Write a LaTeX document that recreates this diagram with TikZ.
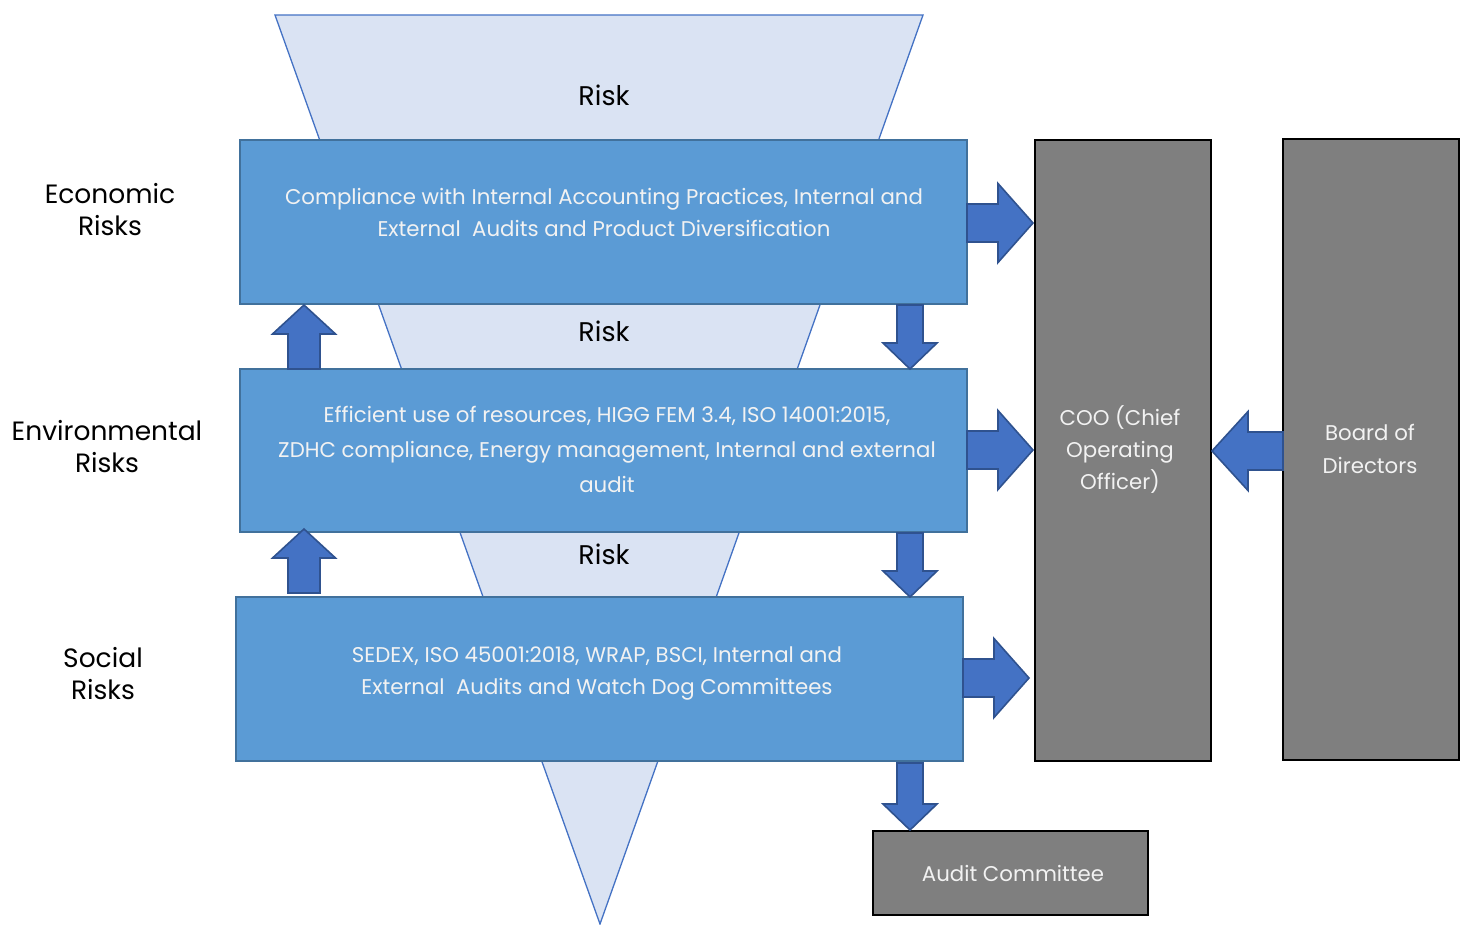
\documentclass[tikz,border=0pt]{standalone}
\usepackage{fontspec}
\setmainfont{Poppins}
\definecolor{boxblue}{HTML}{5B9BD5}
\definecolor{boxedge}{HTML}{41719C}
\definecolor{arrblue}{HTML}{4472C4}
\definecolor{arredge}{HTML}{2F528F}
\definecolor{funnelfill}{HTML}{DAE3F3}
\definecolor{greybox}{HTML}{7F7F7F}
\definecolor{boxtext}{HTML}{F2F2F2}
\tikzset{
  riskbox/.style={draw=boxedge, line width=2.2pt, fill=boxblue},
  greyrect/.style={draw=black, line width=2.6pt, fill=greybox},
  blockarr/.style={draw=arredge, line width=1.6pt, fill=arrblue, line join=miter},
  funnel/.style={draw=arrblue, line width=1.3pt, fill=funnelfill},
  boxlabel/.style={text=boxtext, font=\fontsize{21.3}{32}\selectfont, align=center},
  sidelabel/.style={text=black, font=\fontsize{26.5}{32}\selectfont, align=center},
  risklabel/.style={text=black, font=\fontsize{27}{30}\selectfont}
}
\newcommand{\barrow}[7]{\draw[blockarr,shift={(#1,#2)},rotate=#3] (0,-#5) -- ({#4-#7},-#5) -- ({#4-#7},-#6) -- (#4,0) -- ({#4-#7},#6) -- ({#4-#7},#5) -- (0,#5) -- cycle;}
\begin{document}
\begin{tikzpicture}[x=1pt,y=-1pt]
\useasboundingbox (0,0) rectangle (1467,924);
% funnel
\draw[funnel] (275,15) -- (923,15) -- (600,924) -- cycle;
\node[risklabel] (r1) at (604,95) {Risk};
\node[risklabel] (r2) at (604,331) {Risk};
\node[risklabel] (r3) at (604,554) {Risk};
% risk boxes
\draw[riskbox] (240,140) rectangle (967,304);
\draw[riskbox] (240,369) rectangle (967,532);
\draw[riskbox] (236,597) rectangle (963,761);
\node[boxlabel] (econ) at (604,212) {Compliance with Internal Accounting Practices, Internal and\\External\ \ Audits and Product Diversification};
\node[boxlabel, font=\fontsize{21.3}{35}\selectfont] (env) at (607,449) {Efficient use of resources, HIGG FEM 3.4, ISO 14001:2015,\\ZDHC compliance, Energy management, Internal and external\\audit};
\node[boxlabel] (soc) at (597,673) {SEDEX, ISO 45001:2018, WRAP, BSCI, Internal and\\External\ \ Audits and Watch Dog Committees};
% side labels
\node[sidelabel] (le) at (110,210) {Economic\\Risks};
\node[sidelabel] (lv) at (107,447) {Environmental\\Risks};
\node[sidelabel] (ls) at (103,674) {Social\\Risks};
% grey boxes
\draw[greyrect] (1035,140) rectangle (1211,761);
\draw[greyrect] (1283,139) rectangle (1459,760);
\draw[greyrect] (873,831) rectangle (1148,915);
\node[boxlabel, font=\fontsize{21.3}{32}\selectfont] (coo) at (1120,450) {COO (Chief\\Operating\\Officer)};
\node[boxlabel, font=\fontsize{21.3}{33}\selectfont] (bod) at (1370,449) {Board of\\Directors};
\node[boxlabel] (audit) at (1013,873) {Audit Committee};
% block arrows
\barrow{967}{223}{0}{66}{19}{39.5}{35}
\barrow{967}{450}{0}{66}{19}{39.5}{35}
\barrow{963}{678}{0}{66}{19}{39.5}{35}
\barrow{1283}{451}{180}{71}{19}{39.5}{36}
\barrow{304}{369}{90}{64}{16}{31.5}{29}
\barrow{304}{593}{90}{64}{16}{31.5}{29}
\barrow{910}{305}{-90}{64}{13}{27}{26}
\barrow{910}{533}{-90}{64}{13}{27}{26}
\barrow{910}{763}{-90}{67}{13}{27}{26}
\end{tikzpicture}
\end{document}
